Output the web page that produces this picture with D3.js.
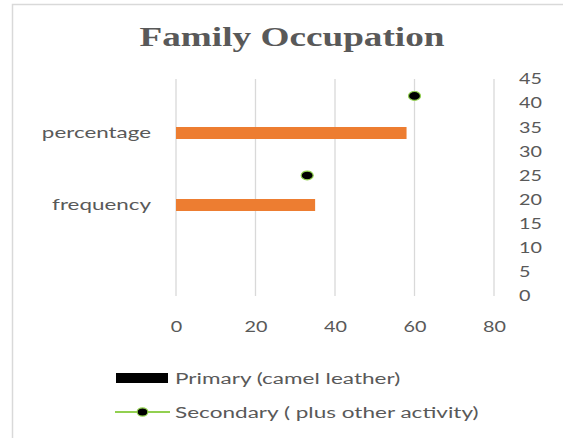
<!DOCTYPE html>
<html lang="en">
<head>
  <meta charset="UTF-8">
  <title>Family Occupation</title>
  <style>
    body { margin: 0; background: #fff; }
    text { fill: #595959; }
  </style>
</head>
<body>
  <div id="chart"></div>

  <script src="https://cdn.jsdelivr.net/npm/d3@7"></script>
  <script>
    // data
    const categories = ["percentage", "frequency"];
    const primaryValues = [58, 35];          // orange bars, bottom axis
    const secondaryX = [60, 33];             // dots, bottom axis
    const secondaryY = [41.5, 25];           // dots, right axis
    const xTicks = [0, 20, 40, 60, 80];
    const yTicks = [0, 5, 10, 15, 20, 25, 30, 35, 40, 45];
    const legendLabels = ["Primary (camel leather)", "Secondary ( plus other activity)"];

    const W = 563, H = 438;
    const plot = { left: 176, right: 494, top: 79, bottom: 296 };
    const grey = "#595959";
    const sans = "Lato, 'Open Sans', sans-serif";

    const svg = d3.select("#chart").append("svg")
      .attr("width", W)
      .attr("height", H);

    // chart border
    svg.append("rect")
      .attr("x", 12.5).attr("y", 4.5)
      .attr("width", 600).attr("height", 500)
      .attr("fill", "#fff")
      .attr("stroke", "#d9d9d9")
      .attr("stroke-width", 1.5);

    const x = d3.scaleLinear().domain([0, 80]).range([plot.left, plot.right]);
    const y = d3.scaleLinear().domain([0, 45]).range([plot.bottom, plot.top]);
    const cat = d3.scaleBand().domain(categories)
      .range([plot.top + 18, plot.top + 162]);

    // title
    svg.append("text")
      .attr("transform", "translate(292,46) scale(1.33,1)")
      .attr("text-anchor", "middle")
      .style("font-family", "'Liberation Serif', serif")
      .style("font-weight", "bold")
      .style("font-size", "28px")
      .text("Family Occupation");

    // vertical gridlines
    svg.append("g").selectAll("line")
      .data(xTicks)
      .enter().append("line")
      .attr("x1", d => x(d)).attr("x2", d => x(d))
      .attr("y1", plot.top).attr("y2", plot.bottom)
      .attr("stroke", "#d9d9d9")
      .attr("stroke-width", 1.3);

    // bottom axis
    const xAxis = svg.append("g")
      .attr("transform", `translate(0,321)`)
      .call(d3.axisBottom(x).tickValues(xTicks).tickSize(0).tickPadding(0));
    xAxis.select(".domain").remove();
    xAxis.selectAll("text")
      .attr("fill", grey)
      .attr("transform", "scale(1.32,1)")
      .style("font-family", sans)
      .style("font-size", "15px");

    // right axis
    const yAxis = svg.append("g")
      .attr("transform", `translate(519,0)`)
      .call(d3.axisRight(y).tickValues(yTicks).tickSize(0).tickPadding(0));
    yAxis.select(".domain").remove();
    yAxis.selectAll("text")
      .attr("fill", grey)
      .attr("transform", "scale(1.32,1)")
      .style("font-family", sans)
      .style("font-size", "15px");

    // category axis
    const cAxis = svg.append("g")
      .attr("transform", `translate(151,0)`)
      .call(d3.axisLeft(cat).tickSize(0).tickPadding(0));
    cAxis.select(".domain").remove();
    cAxis.selectAll("text")
      .attr("fill", grey)
      .attr("transform", "scale(1.4,1)")
      .style("font-family", sans)
      .style("font-size", "16px");

    // bars
    const barH = 12;
    svg.append("g").selectAll("rect")
      .data(categories)
      .enter().append("rect")
      .attr("x", x(0))
      .attr("y", d => cat(d) + cat.bandwidth() / 2 - barH / 2)
      .attr("width", (d, i) => x(primaryValues[i]) - x(0))
      .attr("height", barH)
      .attr("fill", "#ed7d31");

    // secondary dots
    svg.append("g").selectAll("ellipse")
      .data(secondaryX)
      .enter().append("ellipse")
      .attr("cx", d => x(d))
      .attr("cy", (d, i) => y(secondaryY[i]))
      .attr("rx", 6)
      .attr("ry", 4.4)
      .attr("fill", "#000")
      .attr("stroke", "#92d050")
      .attr("stroke-width", 1.2);

    // legend
    const legend = svg.append("g");
    const rows = [378, 412];

    legend.append("rect")
      .attr("x", 116).attr("y", rows[0] - 5)
      .attr("width", 52).attr("height", 10)
      .attr("fill", "#000");

    legend.append("line")
      .attr("x1", 115).attr("x2", 170)
      .attr("y1", rows[1]).attr("y2", rows[1])
      .attr("stroke", "#92d050")
      .attr("stroke-width", 2.2);

    legend.append("ellipse")
      .attr("cx", 142.5).attr("cy", rows[1])
      .attr("rx", 5.4).attr("ry", 4.1)
      .attr("fill", "#000")
      .attr("stroke", "#92d050")
      .attr("stroke-width", 1.2);

    legend.selectAll("text")
      .data(legendLabels)
      .enter().append("text")
      .attr("transform", (d, i) => `translate(175,${rows[i]}) scale(1.41,1)`)
      .attr("dy", "0.35em")
      .style("font-family", sans)
      .style("font-size", "16px")
      .text(d => d);
  </script>
</body>
</html>
